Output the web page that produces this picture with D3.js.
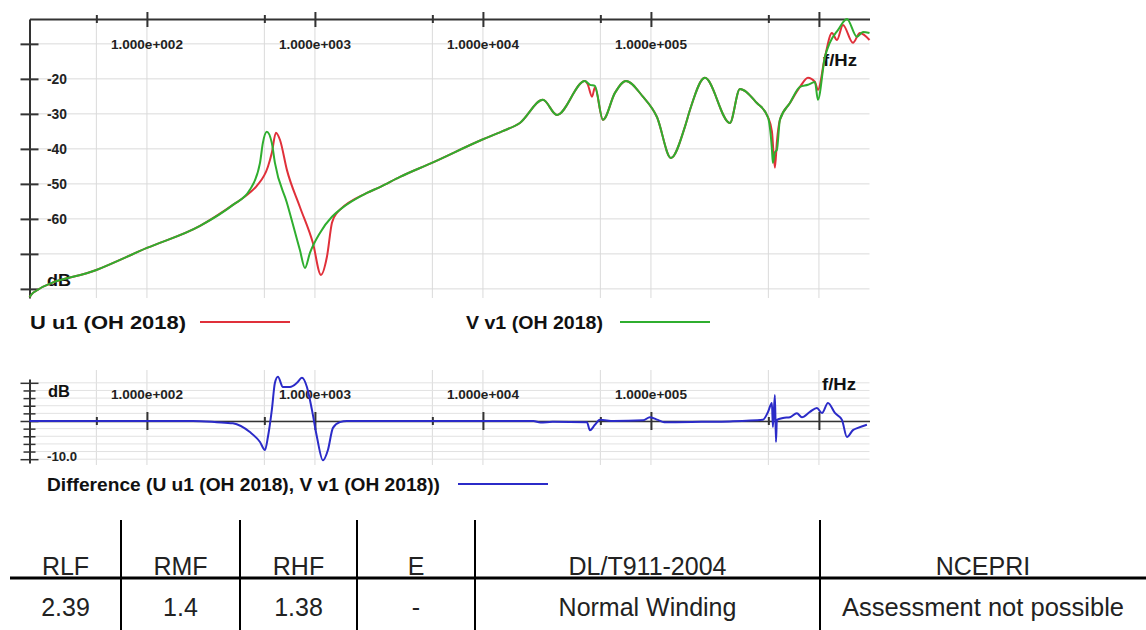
<!DOCTYPE html>
<html><head><meta charset="utf-8">
<script src="https://cdn.jsdelivr.net/npm/d3@7"></script>
<style>body{margin:0;background:#fff} svg{display:block} text{font-family:"Liberation Sans",Arial,sans-serif}</style>
</head><body><svg id="c" width="1146" height="630"></svg>
<script>
// ---- data ----
const freqU = [20,21,50,100,207,325,410,452,525,554,586,619,681,814,973,1086,1178,1263,1352,1408,2040,2438,3209,4966,9863,13000,16600,22750,27560,40440,42000,44600,46400,51800,61070,71000,89600,108600,131600,159300,170700,209500,295000,338600,427500,497000,525000,547000,562000,586000,672000,771000,860000,947000,986000,1086000,1195000,1280000,1390000,1594000,1754000,2000000];
const dbU = [-82.4,-81.1,-74.6,-68.3,-62,-56,-52.5,-50.5,-45.1,-41.1,-35.4,-37.4,-46,-56.6,-66.9,-76,-70.9,-61.1,-58.3,-57.4,-52.6,-50.9,-48,-44,-37.4,-35,-32.6,-26,-30.3,-20.6,-21.5,-25.1,-22.5,-31.7,-24,-20.6,-25.1,-30.9,-42.6,-33.7,-28.9,-19.7,-32.6,-22.9,-26.9,-30.9,-35,-45.4,-38,-31.7,-26.9,-22.3,-19.7,-20.9,-23.1,-13.7,-6.9,-8.9,-4.6,-9.7,-6.9,-8.9];
const freqV = [20,21,50,100,207,325,410,471,490,517,554,578,681,814,872,934,1071,1263,1408,2040,2438,3209,4966,9863,13000,16600,22750,27560,40440,43350,46400,51800,61070,71000,89600,108600,131600,159300,170700,209500,295000,338600,427500,497000,525000,532000,547000,562000,586000,672000,771000,860000,947000,986000,1086000,1160000,1300000,1468000,1684000,1830000,2000000];
const dbV = [-82.4,-81.1,-74.6,-68.3,-62,-56,-51.7,-44,-38.3,-35.1,-38.3,-44,-55.4,-68.9,-74,-69.7,-64,-59.4,-57.4,-52.6,-50.9,-48,-44,-37.4,-35,-32.6,-26,-30.3,-20.6,-21.7,-22,-31.7,-24,-20.6,-25.1,-30.9,-42.6,-33.7,-28.9,-19.7,-32.6,-22.9,-26.9,-30.9,-40,-44,-41,-40.3,-31.7,-26.9,-22.3,-21.7,-20.9,-26,-13.7,-9.7,-6,-2.9,-8,-6.6,-6.9];
const freqDiff = [20,188,260,325,410,471,504,525,554,578,602,645,710,782,837,896,960,1028,1116,1195,1280,1408,1550,20000,22000,26000,41600,43350,46400,49700,60000,90000,98600,110000,120000,200000,295000,464000,497000,525000,532000,547000,555000,562000,611000,672000,739000,792000,884000,973000,1042000,1132000,1245000,1371000,1468000,1594000,1706000,1930000];
const dbDiff = [0,0,-0.3,-0.6,-2.9,-5.5,-7.6,-4.2,2.9,10,11.6,8.9,8.9,10,11.3,8.9,2.9,-4.2,-10.3,-7.6,-1.8,-0.3,0,0,-0.4,-0.2,-0.3,-2.4,-1,0.3,0,0.2,1,0.3,-0.3,-0.2,-0.1,0.3,2.3,4.7,-1.6,6.8,-5.5,0.3,0.8,1,2,1,2.4,3.4,2.1,4.7,2.1,0.3,-4.2,-2.4,-1.8,-1];

const decadeTicks = [100,1000,10000,100000,1000000];
const decadeLabels = ["1.000e+002","1.000e+003","1.000e+004","1.000e+005"];
const minorTicks = [50,500,5000,50000,500000];
const yTicks = [-10,-20,-30,-40,-50,-60,-70,-80];
const yLabelTicks = [-20,-30,-40,-50,-60];
const diffTicks = [-10,-8,-6,-4,-2,0,2,4,6,8,10];
const seriesNames = ["U u1 (OH 2018)","V v1 (OH 2018)"];
const diffName = "Difference (U u1 (OH 2018), V v1 (OH 2018))";
const tableHeaders = ["RLF","RMF","RHF","E","DL/T911-2004","NCEPRI"];
const tableValues = ["2.39","1.4","1.38","-","Normal Winding","Assessment not possible"];

// ---- drawing ----
const svg = d3.select("#c");
svg.append("rect").attr("width",1146).attr("height",630).attr("fill","#fff");
const x = d3.scaleLog().domain([20,2e6]).range([29.5,869.5]);
const y = d3.scaleLinear().domain([-82.6,-2.9]).range([298,19]);
const y2 = d3.scaleLinear().domain([-11,11]).range([463,379]);
const gridX = minorTicks.concat(decadeTicks);
const AX = "#333", GRID = "#dadada";
const RED = "#e0303a", GREEN = "#2fae2f", BLUE = "#2b2bc8";

// top grid
svg.append("g").selectAll("line").data(gridX).join("line")
  .attr("x1",d=>x(d)).attr("x2",d=>x(d)).attr("y1",19).attr("y2",298).attr("stroke",GRID);
svg.append("g").selectAll("line").data(yTicks).join("line")
  .attr("x1",29.5).attr("x2",869.5).attr("y1",d=>y(d)).attr("y2",d=>y(d)).attr("stroke",GRID);

// top axis
const ta = svg.append("g").attr("transform","translate(0,19)")
  .call(d3.axisTop(x).tickValues(decadeTicks).tickSizeOuter(0).tickFormat(""));
ta.select(".domain").attr("stroke",AX).attr("stroke-width",2);
ta.selectAll(".tick line").attr("y1",-7).attr("y2",8).attr("stroke",AX).attr("stroke-width",2);
const tm = svg.append("g").attr("transform","translate(0,19)")
  .call(d3.axisTop(x).tickValues(minorTicks).tickSizeOuter(0).tickFormat(""));
tm.select(".domain").remove();
tm.selectAll(".tick line").attr("y1",-4).attr("y2",4).attr("stroke",AX).attr("stroke-width",2);
svg.append("g").selectAll("text").data(decadeLabels).join("text")
  .attr("x",(d,i)=>x(decadeTicks[i])).attr("y",49).attr("text-anchor","middle")
  .attr("font-size",12).attr("font-weight","bold").attr("textLength",72).attr("lengthAdjust","spacingAndGlyphs")
  .attr("fill","#222").text(d=>d);

// left axis
const la = svg.append("g").attr("transform","translate(29.5,0)")
  .call(d3.axisLeft(y).tickValues(yTicks).tickSizeOuter(0).tickFormat(""));
la.select(".domain").attr("stroke",AX).attr("stroke-width",2);
la.selectAll(".tick line").attr("x1",-9).attr("x2",9).attr("stroke",AX).attr("stroke-width",2);
svg.append("g").selectAll("text").data(yLabelTicks).join("text")
  .attr("x",47).attr("y",d=>y(d)+5).attr("font-size",14).attr("font-weight","bold")
  .attr("textLength",20).attr("lengthAdjust","spacingAndGlyphs").attr("fill","#222").text(d=>d);
svg.append("text").attr("x",47).attr("y",286).attr("font-size",17).attr("font-weight","bold")
  .attr("textLength",24).attr("lengthAdjust","spacingAndGlyphs").attr("fill","#111").text("dB");
svg.append("text").attr("x",823).attr("y",66).attr("font-size",17).attr("font-weight","bold")
  .attr("textLength",34).attr("lengthAdjust","spacingAndGlyphs").attr("fill","#111").text("f/Hz");

// curves
const line = d3.line().x(d=>x(d[0])).y(d=>y(d[1])).curve(d3.curveMonotoneX);
svg.append("path").datum(d3.zip(freqU,dbU)).attr("d",line).attr("fill","none").attr("stroke",RED).attr("stroke-width",2);
svg.append("path").datum(d3.zip(freqV,dbV)).attr("d",line).attr("fill","none").attr("stroke",GREEN).attr("stroke-width",2);

// legend top
const legend = [{name:seriesNames[0],c:RED,tx:30,tl:156,lx:200},{name:seriesNames[1],c:GREEN,tx:466,tl:137,lx:620}];
const lg = svg.append("g").selectAll("g").data(legend).join("g");
lg.append("text").attr("x",d=>d.tx).attr("y",329).attr("font-size",18).attr("font-weight","bold")
  .attr("textLength",d=>d.tl).attr("lengthAdjust","spacingAndGlyphs").attr("fill","#111").text(d=>d.name);
lg.append("line").attr("x1",d=>d.lx).attr("x2",d=>d.lx+90).attr("y1",322).attr("y2",322).attr("stroke",d=>d.c).attr("stroke-width",2);

// bottom chart grid
svg.append("g").selectAll("line").data(gridX).join("line")
  .attr("x1",d=>x(d)).attr("x2",d=>x(d)).attr("y1",370).attr("y2",465).attr("stroke",GRID);
svg.append("g").selectAll("line").data(diffTicks).join("line")
  .attr("x1",29.5).attr("x2",869.5).attr("y1",d=>y2(d)).attr("y2",d=>y2(d)).attr("stroke","#e2e2e2");

const bz = y2(0);
const ba = svg.append("g").attr("transform",`translate(0,${bz})`)
  .call(d3.axisTop(x).tickValues(decadeTicks).tickSizeOuter(0).tickFormat(""));
ba.select(".domain").attr("stroke",AX).attr("stroke-width",1.5);
ba.selectAll(".tick line").attr("y1",-9).attr("y2",9).attr("stroke",AX).attr("stroke-width",2);
const bm = svg.append("g").attr("transform",`translate(0,${bz})`)
  .call(d3.axisTop(x).tickValues(minorTicks).tickSizeOuter(0).tickFormat(""));
bm.select(".domain").remove();
bm.selectAll(".tick line").attr("y1",-4).attr("y2",4).attr("stroke",AX).attr("stroke-width",2);
svg.append("g").selectAll("text").data(decadeLabels).join("text")
  .attr("x",(d,i)=>x(decadeTicks[i])).attr("y",399).attr("text-anchor","middle")
  .attr("font-size",12).attr("font-weight","bold").attr("textLength",72).attr("lengthAdjust","spacingAndGlyphs")
  .attr("fill","#222").text(d=>d);
const bl = svg.append("g").attr("transform","translate(29.5,0)")
  .call(d3.axisLeft(y2).tickValues(diffTicks).tickSizeOuter(0).tickFormat(""));
bl.select(".domain").attr("stroke",AX).attr("stroke-width",2);
bl.selectAll(".tick line").attr("x1",d=>(d%10===0)?-9:-6).attr("x2",d=>(d%10===0)?9:6).attr("stroke",AX).attr("stroke-width",1.5);
svg.append("text").attr("x",48).attr("y",397).attr("font-size",16).attr("font-weight","bold")
  .attr("textLength",22).attr("lengthAdjust","spacingAndGlyphs").attr("fill","#111").text("dB");
svg.append("text").attr("x",47).attr("y",461).attr("font-size",12).attr("font-weight","bold")
  .attr("textLength",30).attr("lengthAdjust","spacingAndGlyphs").attr("fill","#222").text("-10.0");
svg.append("text").attr("x",822).attr("y",390).attr("font-size",16).attr("font-weight","bold")
  .attr("textLength",34).attr("lengthAdjust","spacingAndGlyphs").attr("fill","#111").text("f/Hz");

const line2 = d3.line().x(d=>x(d[0])).y(d=>y2(d[1])).curve(d3.curveMonotoneX);
svg.append("path").datum(d3.zip(freqDiff,dbDiff)).attr("d",line2).attr("fill","none").attr("stroke",BLUE).attr("stroke-width",2);

svg.append("text").attr("x",47).attr("y",491).attr("font-size",18).attr("font-weight","bold")
  .attr("textLength",393).attr("lengthAdjust","spacingAndGlyphs").attr("fill","#111").text(diffName);
svg.append("line").attr("x1",458).attr("x2",548).attr("y1",484).attr("y2",484).attr("stroke",BLUE).attr("stroke-width",2);

// table
const colEdges = [10,121,240,357,475,820,1146];
const tg = svg.append("g");
tg.selectAll("line.sep").data(colEdges.slice(1,-1)).join("line").attr("class","sep")
  .attr("x1",d=>d).attr("x2",d=>d).attr("y1",520).attr("y2",630).attr("stroke","#000").attr("stroke-width",2);
tg.append("line").attr("x1",10).attr("x2",1146).attr("y1",578).attr("y2",578).attr("stroke","#000").attr("stroke-width",3);
const cx = i => (colEdges[i]+colEdges[i+1])/2;
tg.selectAll("text.h").data(tableHeaders).join("text").attr("class","h")
  .attr("x",(d,i)=>cx(i)).attr("y",575).attr("text-anchor","middle").attr("font-size",25).attr("fill","#222").text(d=>d);
tg.selectAll("text.v").data(tableValues).join("text").attr("class","v")
  .attr("x",(d,i)=>cx(i)).attr("y",616).attr("text-anchor","middle").attr("font-size",25).attr("fill","#222")
  .each(function(d){ if(d==="Assessment not possible") d3.select(this).attr("textLength",282).attr("lengthAdjust","spacingAndGlyphs"); })
  .text(d=>d);
</script></body></html>
